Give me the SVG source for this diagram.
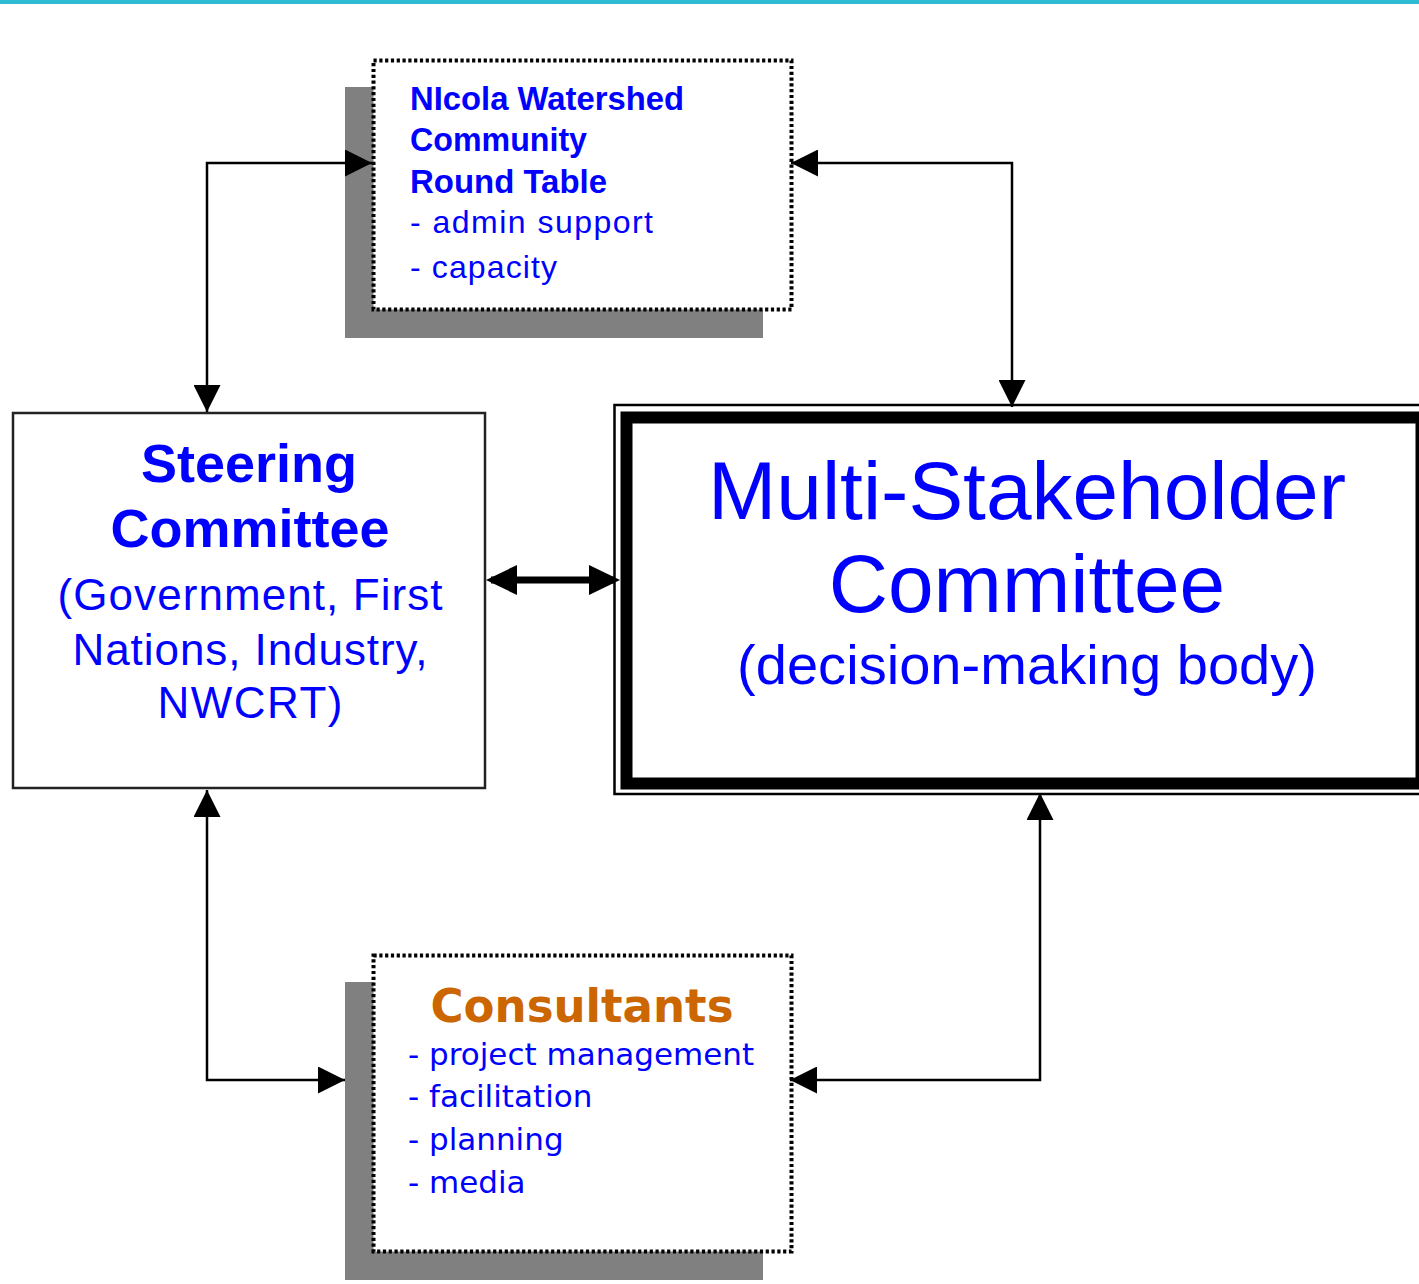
<svg xmlns="http://www.w3.org/2000/svg" width="1419" height="1284" viewBox="0 0 1419 1284">
<style>
.shadow{fill:#808080}
.dot{fill:#fff;stroke:#000;stroke-width:4;stroke-dasharray:3.2 2.6}
.plain{fill:#fff;stroke:#222;stroke-width:2.5}
.conn{fill:none;stroke:#000;stroke-width:2.5}
.conn.thick{stroke-width:7}
.sans{font-family:"Liberation Sans",Arial,sans-serif}
.tah{font-family:"DejaVu Sans",Verdana,sans-serif}
.blue{fill:#0000ff}
.b{font-weight:bold}
</style>
<defs>
<marker id="ah" viewBox="0 0 27 27" markerUnits="userSpaceOnUse" markerWidth="27" markerHeight="27" refX="27" refY="13.5" orient="auto-start-reverse">
<path d="M0,0 L27,13.5 L0,27 z" fill="#000"/>
</marker>
<marker id="ah2" viewBox="0 0 31 30" markerUnits="userSpaceOnUse" markerWidth="31" markerHeight="30" refX="26" refY="15" orient="auto-start-reverse">
<path d="M0,0 L31,15 L0,30 z" fill="#000"/>
</marker>
</defs>
<rect x="0" y="0" width="1419" height="4" fill="#2fbcd3"/>

<g id="nwcrt">
<rect class="shadow" x="345" y="87" width="418" height="251"/>
<rect class="dot" x="373.5" y="60.5" width="418" height="249"/>
<g class="sans blue">
<text class="b" x="410" y="110" font-size="32.5" textLength="274" lengthAdjust="spacingAndGlyphs">NIcola Watershed</text>
<text class="b" x="410" y="151" font-size="32.5" textLength="177" lengthAdjust="spacingAndGlyphs">Community</text>
<text class="b" x="410" y="193" font-size="32.5" textLength="197" lengthAdjust="spacingAndGlyphs">Round Table</text>
<text x="410" y="233" font-size="32" textLength="243" lengthAdjust="spacing">- admin support</text>
<text x="410" y="278" font-size="32" textLength="147" lengthAdjust="spacing">- capacity</text>
</g>
</g>

<g id="steering">
<rect class="plain" x="13" y="413" width="472" height="375"/>
<g class="sans blue" text-anchor="middle">
<text class="b" x="249" y="482" font-size="54">Steering</text>
<text class="b" x="250" y="547" font-size="54">Committee</text>
<text x="250" y="610" font-size="44" textLength="385" lengthAdjust="spacing">(Government, First</text>
<text x="250" y="665" font-size="44" textLength="355" lengthAdjust="spacing">Nations, Industry,</text>
<text x="250" y="718" font-size="44" textLength="185" lengthAdjust="spacing">NWCRT)</text>
</g>
</g>

<g id="msc">
<rect x="614.5" y="405" width="830" height="389" fill="#fff" stroke="#000" stroke-width="2.5"/>
<rect x="626.5" y="417.5" width="795" height="366" fill="#fff" stroke="#000" stroke-width="12"/>
<g class="sans blue" text-anchor="middle">
<text x="1027" y="519" font-size="82">Multi-Stakeholder</text>
<text x="1027" y="612" font-size="82">Committee</text>
<text x="1027" y="684" font-size="56" textLength="580" lengthAdjust="spacing">(decision-making  body)</text>
</g>
</g>

<g id="consultants">
<rect class="shadow" x="345" y="982" width="418" height="298"/>
<rect class="dot" x="373.5" y="955.5" width="418" height="296"/>
<text class="tah b" x="582" y="1022" font-size="46" text-anchor="middle" fill="#cc6600" textLength="303" lengthAdjust="spacingAndGlyphs">Consultants</text>
<g class="tah blue" font-size="31">
<text x="408" y="1065">- project management</text>
<text x="408" y="1107">- facilitation</text>
<text x="408" y="1150">- planning</text>
<text x="408" y="1193">- media</text>
</g>
</g>

<g id="connectors">
<path class="conn" d="M372,163 H207 V412" marker-start="url(#ah)" marker-end="url(#ah)"/>
<path class="conn" d="M791,163 H1012 V407" marker-start="url(#ah)" marker-end="url(#ah)"/>
<path class="conn" d="M207,790 V1080 H345" marker-start="url(#ah)" marker-end="url(#ah)"/>
<path class="conn" d="M1040,793 V1080 H790" marker-start="url(#ah)" marker-end="url(#ah)"/>
<path class="conn thick" d="M491,580 H615" marker-start="url(#ah2)" marker-end="url(#ah2)"/>
</g>
</svg>
